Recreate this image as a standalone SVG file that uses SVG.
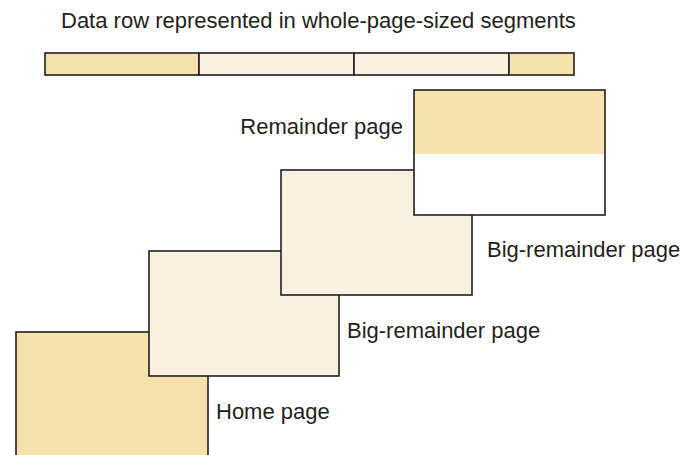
<svg xmlns="http://www.w3.org/2000/svg" width="681" height="455" viewBox="0 0 681 455">
<style>
.lbl{font-family:"Liberation Sans",Arial,sans-serif;font-size:22px;fill:#231f20}
.pg{stroke:#231f20;stroke-width:1.6}
.y{fill:#f6e2ad}
.l{fill:#f8f1e0}
</style>
<rect width="681" height="455" fill="#ffffff"/>
<g id="title"><text class="lbl" x="61" y="28">Data row represented in whole-page-sized segments</text></g>
<g id="data-row">
<rect class="pg y" x="45" y="53" width="154" height="22"/>
<rect class="pg l" x="199" y="53" width="155" height="22"/>
<rect class="pg l" x="354" y="53" width="155" height="22"/>
<rect class="pg y" x="509" y="53" width="65" height="22"/>
</g>
<g id="home-page">
<rect class="pg y" x="16" y="332" width="192" height="135"/>
<text class="lbl" x="216" y="419">Home page</text>
</g>
<g id="big-remainder-1">
<rect class="pg l" x="149" y="251" width="190" height="125"/>
<text class="lbl" x="347" y="338">Big-remainder page</text>
</g>
<g id="big-remainder-2">
<rect class="pg l" x="281" y="170" width="191" height="125"/>
<text class="lbl" x="487" y="257">Big-remainder page</text>
</g>
<g id="remainder-page">
<rect x="414" y="90" width="191" height="125" fill="#ffffff"/>
<rect class="y" x="414" y="90" width="191" height="64"/>
<rect class="pg" x="414" y="90" width="191" height="125" fill="none"/>
<text class="lbl" x="403" y="134" text-anchor="end">Remainder page</text>
</g>
<g id="connectors"/>
</svg>
